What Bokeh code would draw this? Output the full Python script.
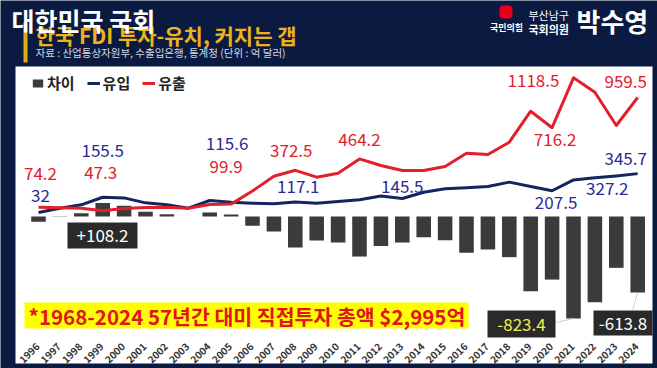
import math
from bokeh.plotting import figure
from bokeh.models import Range1d, BoxAnnotation, Label, Legend, LegendItem, ColumnDataSource
from bokeh.embed import file_html
from bokeh.resources import INLINE
from bokeh.core.properties import value

# ---------------- data (억 달러) ----------------
years = list(range(1996, 2025))
inflow = [32, 67, 94, 155.5, 150, 110, 94, 67, 129, 115.6, 107, 102, 117.1, 107, 120,
          135, 165, 145.5, 196, 223, 231, 242, 277, 242, 207.5, 295.1, 312, 327.2, 345.7]
outflow = [74.2, 70, 67, 47.3, 64, 72, 75, 67, 97, 99.9, 205, 325, 372.5, 317, 349,
           464.2, 411, 371, 371, 403, 510, 500, 599, 849, 716.2, 1118.5, 1002, 734, 959.5]
diff = [-42.2, -3, 27, 108.2, 86, 38, 19, 0, 32, 15.7, -75, -121, -250, -194, -210,
        -323, -237, -210, -167, -192, -293, -266, -328, -602, -508.7, -823.4, -691, -414, -613.8]

series_names = ["차이", "유입", "유출"]
red_label_years = [1996, 1999, 2005, 2008, 2011, 2020, 2021, 2024]
blue_label_years = [1996, 1999, 2005, 2008, 2013, 2020, 2023, 2024]
box_label_years = [1999, 2021, 2024]

title_text = "한국 FDI 투자-유치, 커지는 갭"
subtitle_text = "자료 : 산업통상자원부, 수출입은행, 통계청 (단위 : 억 달러)"
watermark_text = "대한민국 국회"
note_text = "*1968-2024 57년간 대미 직접투자 총액 $2,995억"

# ---------------- layout ----------------
FONT = "Noto Sans CJK KR"
NAVY = "#0b1a40"
RED = "#e3202a"
BLUE_LINE = "#14245e"
BLUE_TXT = "#2a2a9c"
BAR = "#3b3b3b"

W, H = 657, 368
PX0, PXSTEP = 38, 21.4     # page px of first year centre, px per year
PY0, PYSCALE = 216, 0.124  # page px of zero, px per unit


def X(px):
    return years[0] + (px - PX0) / PXSTEP


def Y(py):
    return (PY0 - py) / PYSCALE


def box(l, r, t, b, color, **kw):
    p.add_layout(BoxAnnotation(left=X(l), right=X(r), top=Y(t), bottom=Y(b),
                               fill_color=color, fill_alpha=1, line_alpha=0, **kw))


p = figure(width=W, height=H, output_backend="svg", toolbar_location=None,
           x_range=Range1d(X(0), X(W)), y_range=Range1d(Y(H), Y(0)),
           x_axis_location=None, y_axis_location=None, title=None,
           min_border=0)
p.grid.visible = False
p.outline_line_color = None
p.background_fill_color = NAVY
p.border_fill_color = NAVY

box(15, 652, 66, 363, "white", level="underlay")   # chart panel
box(23, 27, 22, 62, "#e2a91e")                      # gold accent bar
box(499, 512, 5, 18, "#e5001c", border_radius=4)    # party logo

# ---------------- marks ----------------
r_bar = p.vbar(x=years, top=diff, bottom=0, width=0.68, fill_color=BAR, line_color=None)
r_in = p.line(years, inflow, line_color=BLUE_LINE, line_width=3, line_join="round")
r_out = p.line(years, outflow, line_color=RED, line_width=3, line_join="round")

legend = Legend(items=[LegendItem(label=series_names[0], renderers=[r_bar]),
                       LegendItem(label=series_names[1], renderers=[r_in]),
                       LegendItem(label=series_names[2], renderers=[r_out])],
                orientation="horizontal", location=(31, 275),
                label_text_font=FONT, label_text_font_size="15px", label_text_font_style="bold",
                label_text_color="#222222", glyph_width=13, glyph_height=10,
                spacing=12, label_standoff=3, padding=0, margin=0,
                border_line_alpha=0, background_fill_alpha=0)
p.add_layout(legend)

red_offsets = [(2, -34), (-2, -38), (-5, -38), (-4, -20), (0, -19), (3, 12), (-40, 3), (-12, -16)]
blue_offsets = [(2, -17), (0, -47), (-4, -59), (3, -15), (0, -12), (4, 12), (-9, 13), (-12, -15)]


def label_source(sel_years, series, offsets):
    idx = [years.index(y) for y in sel_years]
    return ColumnDataSource(dict(
        x=sel_years, y=[series[i] for i in idx],
        text=[f"{series[i]:g}" for i in idx],
        dx=[o[0] for o in offsets], dy=[o[1] for o in offsets]))


for sel, ser, offs, col in [(red_label_years, outflow, red_offsets, RED),
                            (blue_label_years, inflow, blue_offsets, BLUE_TXT)]:
    p.text(x="x", y="y", text="text", x_offset="dx", y_offset="dy",
           source=label_source(sel, ser, offs),
           text_align="center", text_baseline="middle",
           text_font=value(FONT), text_font_size="17px", text_color=col)

# year tick labels (rotated)
p.text(x=years, y=[Y(344)] * len(years), text=[str(y) for y in years],
       angle=math.pi / 4, text_align="right", text_baseline="middle", x_offset=-1,
       text_font=value(FONT), text_font_size="10px", text_font_style="bold",
       text_color="#333333")

# leader lines for the boxed values
p.segment(x0=[box_label_years[1], box_label_years[2]],
          y0=[diff[years.index(box_label_years[1])], diff[years.index(box_label_years[2])]],
          x1=[X(555), X(632)], y1=[Y(322), Y(310)],
          line_color="#c9d3dc", line_width=1)

# boxed difference labels
box_pos = [((67, 137, 222, 248), "white"),
           ((487, 555, 310, 337), "#f0ee48"),
           ((593, 652, 310, 335), "white")]
for yr, ((l, r, t, b), tc) in zip(box_label_years, box_pos):
    box(l, r, t, b, "#2a2a2a")
    v = diff[years.index(yr)]
    p.add_layout(Label(x=X((l + r) / 2), y=Y((t + b) / 2), text=f"{v:+g}", text_align="center",
                       text_baseline="middle", text_font=FONT, text_font_size="17px",
                       text_color=tc))

# footnote
box(24, 468, 302, 328, "#ffff00")
p.add_layout(Label(x=X(28), y=Y(315), text=note_text, text_align="left",
                   text_baseline="middle", text_font=FONT, text_font_size="20.5px",
                   text_font_style="bold", text_color="#e2141c"))

# header texts
p.add_layout(Label(x=X(35), y=Y(34), text=title_text, text_align="left", text_baseline="middle",
                   text_font=FONT, text_font_size="21px", text_font_style="bold",
                   text_color="#edb41a"))
p.add_layout(Label(x=X(35), y=Y(52), text=subtitle_text, text_align="left", text_baseline="middle",
                   text_font=FONT, text_font_size="10.5px", text_color="#d5d8e0"))
p.add_layout(Label(x=X(11), y=Y(19), text=watermark_text, text_align="left", text_baseline="middle",
                   text_font=FONT, text_font_size="25px", text_font_style="bold",
                   text_color="white"))
p.add_layout(Label(x=X(506), y=Y(27), text="국민의힘", text_align="center", text_baseline="middle",
                   text_font=FONT, text_font_size="9px", text_font_style="bold", text_color="white"))
p.add_layout(Label(x=X(528), y=Y(14), text="부산남구", text_align="left", text_baseline="middle",
                   text_font=FONT, text_font_size="11px", text_color="white"))
p.add_layout(Label(x=X(528), y=Y(28), text="국회의원", text_align="left", text_baseline="middle",
                   text_font=FONT, text_font_size="11px", text_font_style="bold", text_color="white"))
p.add_layout(Label(x=X(576), y=Y(20), text="박수영", text_align="left", text_baseline="middle",
                   text_font=FONT, text_font_size="26px", text_font_style="bold", text_color="white"))

html = file_html(p, INLINE)
html = html.replace("<body>", '<body style="background-color:%s;">' % NAVY, 1)
open("out.html", "w").write(html)
